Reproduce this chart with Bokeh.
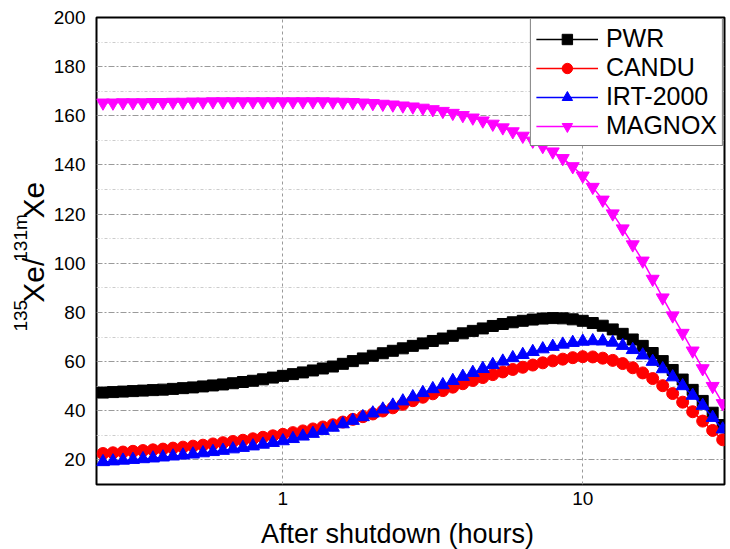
import math
from bokeh.plotting import figure
from bokeh.layouts import row, column
from bokeh.models import Range1d, FixedTicker, Legend, LegendItem
from bokeh.core.properties import value
from bokeh.embed import file_html
from bokeh.resources import INLINE

# Time after reactor shutdown (hours), log-spaced sampling
hours = [0.2512, 0.2712, 0.2929, 0.3162, 0.3415, 0.3687, 0.3981, 0.4299, 0.4642,
         0.5012, 0.5412, 0.5843, 0.6310, 0.6813, 0.7356, 0.7943, 0.8577, 0.9261,
         1.000, 1.080, 1.166, 1.259, 1.359, 1.468, 1.585, 1.711, 1.848, 1.995,
         2.154, 2.326, 2.512, 2.712, 2.929, 3.162, 3.415, 3.687, 3.981, 4.299,
         4.642, 5.012, 5.412, 5.843, 6.310, 6.813, 7.356, 7.943, 8.577, 9.261,
         10.00, 10.80, 11.66, 12.59, 13.59, 14.68, 15.85, 17.11, 18.48, 19.95,
         21.54, 23.26, 25.12, 27.12, 29.29]

# 135Xe / 131mXe activity ratio per reactor type
pwr = [47.4, 47.6, 47.8, 48.0, 48.2, 48.4, 48.6, 48.9, 49.2, 49.5, 49.9, 50.3, 50.7,
       51.2, 51.7, 52.2, 52.8, 53.5,
       54.2, 54.9, 55.6, 56.4, 57.2, 58.0, 59.1, 60.2, 61.3, 62.4,
       63.4, 64.4, 65.4, 66.4, 67.4, 68.4, 69.4, 70.5, 71.5, 72.5,
       73.5, 74.5, 75.3, 76.0, 76.6, 77.1, 77.5, 77.7, 77.6, 77.2,
       76.6, 75.7, 74.6, 73.1, 71.3, 69.0, 66.4, 63.5, 60.2, 56.6, 52.7, 48.5, 44.0,
       39.2, 34.2]

candu = [22.6, 22.9, 23.2, 23.5, 23.8, 24.1, 24.4, 24.8, 25.2, 25.6, 26.0, 26.5, 27.0,
         27.5, 28.0, 28.6, 29.2, 29.8,
         30.4, 31.1, 31.8, 32.6, 33.4, 34.3, 35.4, 36.5, 37.6, 38.7,
         39.9, 41.2, 42.6, 44.1, 45.5, 46.9, 48.2, 49.6, 51.0, 52.3,
         53.5, 54.7, 55.8, 56.8, 57.7, 58.6, 59.5, 60.3, 61.0, 61.6,
         62.0, 61.9, 61.4, 60.5, 59.2, 57.5, 55.4, 53.1, 50.2, 47.0, 43.5, 39.6, 35.8,
         32.0, 28.2]

irt2000 = [19.2, 19.5, 19.8, 20.1, 20.4, 20.7, 21.1, 21.5, 21.9, 22.3, 22.8, 23.3, 23.8,
           24.4, 25.0, 25.6, 26.3, 27.0,
           27.7, 28.6, 29.6, 30.7, 31.9, 33.2, 34.6, 36.0, 37.5, 39.0,
           40.6, 42.2, 43.9, 45.6, 47.3, 48.9, 50.5, 52.2, 53.9, 55.5,
           57.1, 58.7, 60.1, 61.5, 62.8, 64.0, 65.1, 66.1, 67.0, 67.7,
           68.2, 68.4, 68.3, 67.8, 66.5, 64.8, 62.6, 60.0, 57.0, 53.7, 50.1, 46.2, 42.1,
           37.2, 32.5]

magnox = [165.3, 165.3, 165.4, 165.4, 165.4, 165.5, 165.5, 165.6, 165.6, 165.7, 165.7,
          165.8, 165.8, 165.8, 165.8, 165.8, 165.8, 165.8,
          165.8, 165.8, 165.8, 165.8, 165.8, 165.7, 165.6, 165.5, 165.3, 165.1,
          164.8, 164.5, 164.1, 163.7, 163.2, 162.6, 161.9, 161.1, 160.2, 159.2,
          158.0, 156.7, 155.2, 153.6, 151.8, 149.8, 147.6, 145.4, 142.7, 139.4,
          135.6, 131.0, 125.8, 120.2, 114.1, 107.6, 101.0, 93.6, 86.0, 78.7, 71.6,
          64.4, 57.2, 50.0, 43.0]

series = [
    ("PWR", pwr, "#000000", "square", 11),
    ("CANDU", candu, "#ff0000", "circle", 12),
    ("IRT-2000", irt2000, "#0000ff", "triangle", 13),
    ("MAGNOX", magnox, "#ff00ff", "inverted_triangle", 13),
]

y_major = [20, 40, 60, 80, 100, 120, 140, 160, 180, 200]
y_minor = [10, 30, 50, 70, 90, 110, 130, 150, 170, 190]
x_major = [1, 10]

FONT = "Liberation Sans, Arial, DejaVu Sans"

TOTAL_W, TOTAL_H = 730, 549
TITLE_W = 50          # strip holding the rotated y title
XTITLE_H = 36         # strip holding the x title
MAIN_W = TOTAL_W - TITLE_W
MAIN_H = TOTAL_H - XTITLE_H
FRAME_LEFT, FRAME_TOP, FRAME_BOTTOM = 94, 17, 484

p = figure(width=MAIN_W, height=MAIN_H, x_axis_type="log",
           x_range=Range1d(0.239, 29.7), y_range=Range1d(10, 200),
           output_backend="svg", toolbar_location=None,
           min_border_left=FRAME_LEFT - TITLE_W, min_border_right=6,
           min_border_top=FRAME_TOP, min_border_bottom=MAIN_H - FRAME_BOTTOM)

p.background_fill_color = "white"
p.border_fill_color = "white"
p.outline_line_color = "black"
p.outline_line_width = 2

# axes (tick labels only)
p.xaxis.ticker = FixedTicker(ticks=x_major)
p.xaxis.major_label_overrides = {1: "1", 10: "10"}
p.yaxis.ticker = FixedTicker(ticks=y_major, minor_ticks=y_minor)
for ax in (p.xaxis[0], p.yaxis[0]):
    ax.axis_line_color = None
    ax.major_tick_line_color = None
    ax.minor_tick_line_color = None
    ax.major_tick_out = 0
    ax.minor_tick_out = 0
    ax.major_label_text_font = FONT
    ax.major_label_text_font_size = "19px"
    ax.major_label_text_color = "black"
p.xaxis.major_label_standoff = 7
p.yaxis.major_label_standoff = 11

# grids
p.xgrid.ticker = FixedTicker(ticks=x_major)
p.xgrid.grid_line_color = "#9a9a9a"
p.xgrid.grid_line_dash = "3 3"
p.ygrid.ticker = FixedTicker(ticks=y_major, minor_ticks=y_minor)
p.ygrid.grid_line_color = "#9a9a9a"
p.ygrid.grid_line_dash = "6 2 2 2"
p.ygrid.minor_grid_line_color = "#cccccc"
p.ygrid.minor_grid_line_dash = "3 2 1 2"

items = []
for name, vals, color, marker, size in series:
    ln = p.line(hours, vals, line_color=color, line_width=1.5)
    sc = p.scatter(hours, vals, marker=marker, size=size,
                   fill_color=color, line_color=color)
    items.append(LegendItem(label=name, renderers=[ln, sc]))

legend = Legend(items=items, location="top_right", margin=1, padding=5,
                spacing=0, glyph_width=62, glyph_height=26, label_height=26,
                label_standoff=8, label_text_font=FONT,
                label_text_font_size="25px", label_text_color="black",
                border_line_color="black", border_line_width=1.5,
                background_fill_color="white", background_fill_alpha=1.0)
p.add_layout(legend)


def blank(width, height):
    f = figure(width=width, height=height, x_range=Range1d(0, width),
               y_range=Range1d(0, height), output_backend="svg",
               toolbar_location=None, min_border=0)
    f.axis.visible = False
    f.grid.visible = False
    f.outline_line_color = None
    f.background_fill_color = "white"
    f.border_fill_color = "white"
    return f


# y title: 135Xe/131mXe with superscript mass numbers, reading upward
ytitle = blank(TITLE_W, MAIN_H)
BIG, SMALL = 30, 19
ADV = {"1": 0.556, "3": 0.556, "5": 0.556, "X": 0.667, "e": 0.556, "/": 0.278, "m": 0.833}
parts = [("135", SMALL), ("Xe/", BIG), ("131m", SMALL), ("Xe", BIG)]
base_big, base_small = 33, 20
pos = 345.0  # distance from canvas top where the title starts
for txt, fs in parts:
    bx = base_big if fs == BIG else base_small
    ytitle.text(x=[bx], y=[MAIN_H - pos], text=[txt], angle=math.pi / 2,
                text_font=value(FONT), text_font_size=value(f"{fs}px"),
                text_color="black", text_align="left", text_baseline="alphabetic")
    pos -= sum(ADV[c] for c in txt) * fs

# x title
xtitle = blank(TOTAL_W, XTITLE_H)
xtitle.text(x=[397], y=[TOTAL_H - 533], text=["After shutdown (hours)"],
            text_font=value(FONT), text_font_size=value("27px"), text_color="black",
            text_align="center", text_baseline="middle")

layout = column(row(ytitle, p, spacing=0), xtitle, spacing=0)

open("out.html", "w").write(file_html(layout, INLINE))
